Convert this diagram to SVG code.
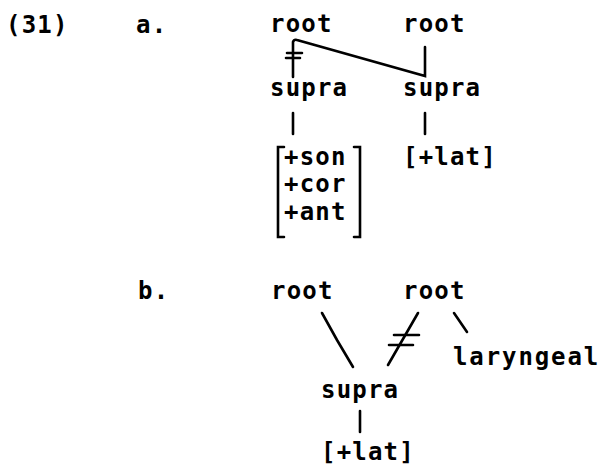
<svg xmlns="http://www.w3.org/2000/svg" width="602" height="465" viewBox="0 0 602 465">
<style>
text{font-family:"DejaVu Sans Mono","Liberation Mono",monospace;font-weight:bold;font-size:24px;letter-spacing:1.2px;fill:#000}
.l{stroke:#000;stroke-width:2.6;fill:none;stroke-linecap:round}
</style>
<rect width="602" height="465" fill="#fff"/>
<g id="labels">
<text x="6" y="33">(31)</text>
<text x="136" y="33">a.</text>
<text x="138" y="299">b.</text>
</g>
<g id="a-root1"><text x="270" y="32">root</text></g>
<g id="a-root2"><text x="403" y="32">root</text></g>
<g id="a-supra1"><text x="270" y="96">supra</text></g>
<g id="a-supra2"><text x="403" y="96">supra</text></g>
<g id="a-matrix">
<text x="284" y="165">+son</text>
<text x="284" y="192">+cor</text>
<text x="284" y="220">+ant</text>
<path class="l" d="M284,147 H278 V237 H284"/>
<path class="l" d="M354,147 H360 V237 H354"/>
</g>
<g id="a-lat"><text x="403" y="165">[+lat]</text></g>
<g id="b-root1"><text x="271" y="299">root</text></g>
<g id="b-root2"><text x="403" y="299">root</text></g>
<g id="b-laryngeal"><text x="453" y="365" style="letter-spacing:1.9px">laryngeal</text></g>
<g id="b-supra"><text x="321" y="398">supra</text></g>
<g id="b-lat"><text x="321" y="460">[+lat]</text></g>
<g id="connectors">
<path class="l" d="M293,77 V42 Q294,39 297,40 L425,76 V47"/>
<path class="l" d="M287,53 H302 M286,58 H300"/>
<path class="l" d="M293,113 V134"/>
<path class="l" d="M425,113 V134"/>
<path class="l" d="M322,313 L337,340 L353,367"/>
<path class="l" d="M418,313 L388,365"/>
<path class="l" d="M394,335 H419 M389,345 H413"/>
<path class="l" d="M454,313 L467,332"/>
<path class="l" d="M360,411 V432"/>
</g>
</svg>
